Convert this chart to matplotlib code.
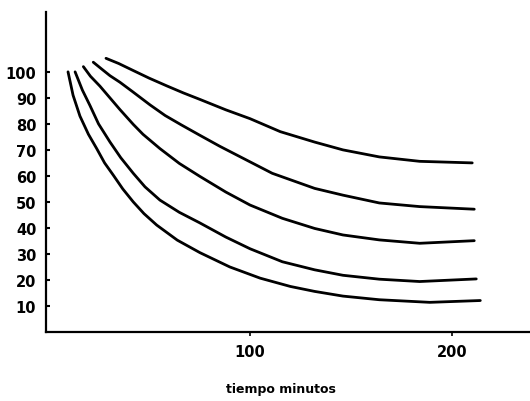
import matplotlib
matplotlib.use("Agg")
import matplotlib.pyplot as plt

# Curves (tiempo en minutos, valor)
t_a = [9.9, 12.4, 15.8, 20, 24.1, 28, 32.3, 37, 42.2, 47.5, 53.8, 64, 75.2, 90, 105, 120, 132, 146, 164, 189, 214]
v_a = [100, 91, 83, 76, 70.5, 65, 60.3, 55, 50, 45.5, 41.1, 35.3, 30.5, 25, 20.7, 17.5, 15.6, 13.8, 12.4, 11.4, 12.1]

t_b = [13.4, 17, 20.8, 25, 30.7, 36, 42.2, 48, 55.4, 65, 75, 88, 100, 116, 132, 146, 164, 184, 212]
v_b = [100, 93, 87, 80, 73, 67, 61, 55.8, 50.7, 46, 42, 36.5, 32, 27, 23.9, 21.8, 20.3, 19.4, 20.4]

t_c = [17.5, 21, 25.7, 29, 35.6, 42.2, 47, 55.4, 65, 75.2, 88, 100, 116, 132, 146, 164, 184, 211]
v_c = [102, 98.3, 94.5, 91.5, 85.5, 79.8, 76, 70.5, 64.8, 59.8, 53.8, 48.8, 43.7, 39.8, 37.3, 35.4, 34.1, 35.1]

t_d = [22.4, 27, 30.7, 35.6, 42, 50.5, 58, 66, 75.2, 85, 100, 111, 132, 146, 164, 184, 211]
v_d = [103.7, 100.8, 98.5, 96, 92.3, 87.3, 83.2, 79.6, 75.6, 71.4, 65.4, 61, 55.2, 52.6, 49.6, 48.2, 47.2]

t_e = [28.7, 35, 42.2, 50, 58.8, 67, 75.2, 88, 100, 115, 132, 146, 164, 184, 210]
v_e = [105.2, 103.2, 100.5, 97.6, 94.6, 91.9, 89.4, 85.4, 82, 77, 73, 70, 67.3, 65.6, 65]

y_ticks = [10, 20, 30, 40, 50, 60, 70, 80, 90, 100]
x_ticks = [100, 200]
x_label = "tiempo minutos"

fig = plt.figure(figsize=(5.30, 4.02), dpi=100)
ax = fig.add_axes([46 / 530, 69 / 402, 484 / 530, 320 / 402])

for t, v in [(t_a, v_a), (t_b, v_b), (t_c, v_c), (t_d, v_d), (t_e, v_e)]:
    ax.plot(t, v, color="black", lw=2.0, solid_capstyle="round", solid_joinstyle="round")

ax.set_xlim(-1, 238.6)
ax.set_ylim(0, 123)

for s in ["top", "right"]:
    ax.spines[s].set_visible(False)
for s in ["left", "bottom"]:
    ax.spines[s].set_linewidth(1.6)
    ax.spines[s].set_color("black")

ax.set_yticks(y_ticks)
ax.set_yticklabels([str(v) for v in y_ticks])
ax.set_xticks(x_ticks)
ax.set_xticklabels([str(v) for v in x_ticks])

ax.tick_params(axis="y", direction="in", length=3, width=1.5, pad=7, labelsize=10.5)
ax.tick_params(axis="x", direction="out", length=3, width=1.2, pad=6, labelsize=10.5)
for lab in ax.get_xticklabels() + ax.get_yticklabels():
    lab.set_fontweight("bold")

fig.text(281 / 530, 1 - 390 / 402, x_label, ha="center", va="center",
         fontsize=9, fontweight="bold")

fig.savefig("out.png", dpi=100)
